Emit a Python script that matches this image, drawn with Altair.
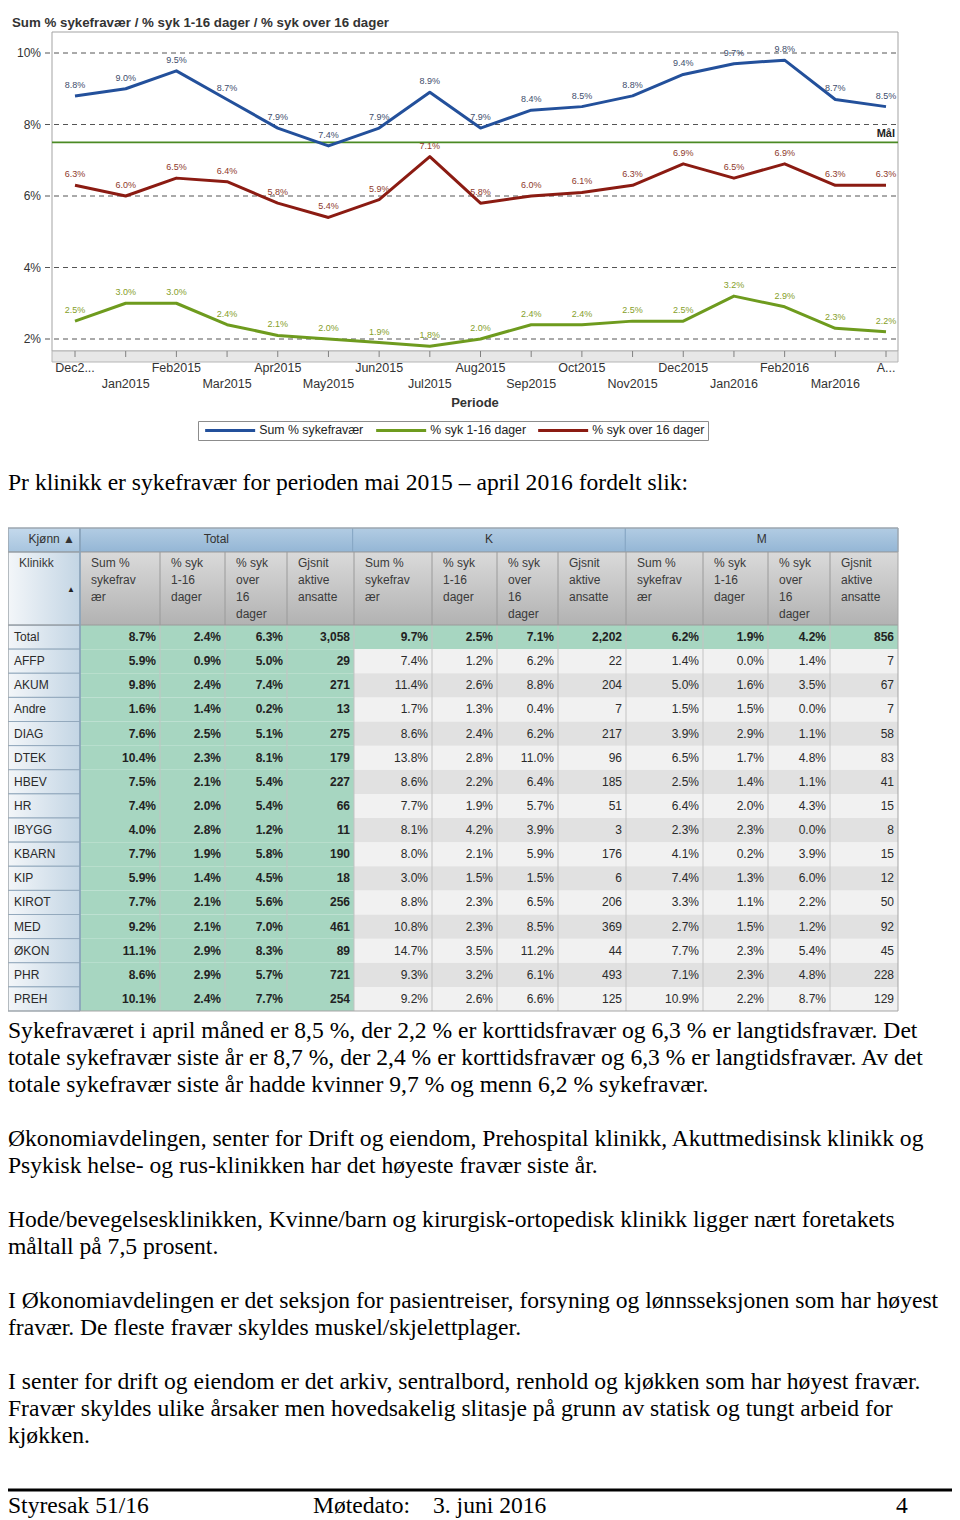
import altair as alt
import pandas as pd

# ---------------- line chart data ----------------
months = ["Dec2014", "Jan2015", "Feb2015", "Mar2015", "Apr2015", "May2015", "Jun2015",
          "Jul2015", "Aug2015", "Sep2015", "Oct2015", "Nov2015", "Dec2015", "Jan2016",
          "Feb2016", "Mar2016", "Apr2016"]
month_labels = ["Dec2...", "Jan2015", "Feb2015", "Mar2015", "Apr2015", "May2015", "Jun2015",
                "Jul2015", "Aug2015", "Sep2015", "Oct2015", "Nov2015", "Dec2015", "Jan2016",
                "Feb2016", "Mar2016", "A..."]
sum_syk = [8.8, 9.0, 9.5, 8.7, 7.9, 7.4, 7.9, 8.9, 7.9, 8.4, 8.5, 8.8, 9.4, 9.7, 9.8, 8.7, 8.5]
syk_1_16 = [2.5, 3.0, 3.0, 2.4, 2.1, 2.0, 1.9, 1.8, 2.0, 2.4, 2.4, 2.5, 2.5, 3.2, 2.9, 2.3, 2.2]
syk_over_16 = [6.3, 6.0, 6.5, 6.4, 5.8, 5.4, 5.9, 7.1, 5.8, 6.0, 6.1, 6.3, 6.9, 6.5, 6.9, 6.3, 6.3]
series_names = ["Sum % sykefravær", "% syk 1-16 dager", "% syk over 16 dager"]
y_ticks = [2, 4, 6, 8, 10]
goal_value = 7.5
chart_title = "Sum % sykefravær / % syk 1-16 dager / % syk over 16 dager"
x_title = "Periode"
goal_label = "Mål"

# ---------------- table data ----------------
klinikker = ["Total", "AFFP", "AKUM", "Andre", "DIAG", "DTEK", "HBEV", "HR", "IBYGG",
             "KBARN", "KIP", "KIROT", "MED", "ØKON", "PHR", "PREH"]
group_names = ["Total", "K", "M"]
measure_headers = [["Sum %", "sykefrav", "ær"], ["% syk", "1-16", "dager"],
                   ["% syk", "over", "16", "dager"], ["Gjsnit", "aktive", "ansatte"]]
total_sum = [8.7, 5.9, 9.8, 1.6, 7.6, 10.4, 7.5, 7.4, 4.0, 7.7, 5.9, 7.7, 9.2, 11.1, 8.6, 10.1]
total_kort = [2.4, 0.9, 2.4, 1.4, 2.5, 2.3, 2.1, 2.0, 2.8, 1.9, 1.4, 2.1, 2.1, 2.9, 2.9, 2.4]
total_lang = [6.3, 5.0, 7.4, 0.2, 5.1, 8.1, 5.4, 5.4, 1.2, 5.8, 4.5, 5.6, 7.0, 8.3, 5.7, 7.7]
total_ans = [3058, 29, 271, 13, 275, 179, 227, 66, 11, 190, 18, 256, 461, 89, 721, 254]
k_sum = [9.7, 7.4, 11.4, 1.7, 8.6, 13.8, 8.6, 7.7, 8.1, 8.0, 3.0, 8.8, 10.8, 14.7, 9.3, 9.2]
k_kort = [2.5, 1.2, 2.6, 1.3, 2.4, 2.8, 2.2, 1.9, 4.2, 2.1, 1.5, 2.3, 2.3, 3.5, 3.2, 2.6]
k_lang = [7.1, 6.2, 8.8, 0.4, 6.2, 11.0, 6.4, 5.7, 3.9, 5.9, 1.5, 6.5, 8.5, 11.2, 6.1, 6.6]
k_ans = [2202, 22, 204, 7, 217, 96, 185, 51, 3, 176, 6, 206, 369, 44, 493, 125]
m_sum = [6.2, 1.4, 5.0, 1.5, 3.9, 6.5, 2.5, 6.4, 2.3, 4.1, 7.4, 3.3, 2.7, 7.7, 7.1, 10.9]
m_kort = [1.9, 0.0, 1.6, 1.5, 2.9, 1.7, 1.4, 2.0, 2.3, 0.2, 1.3, 1.1, 1.5, 2.3, 2.3, 2.2]
m_lang = [4.2, 1.4, 3.5, 0.0, 1.1, 4.8, 1.1, 4.3, 0.0, 3.9, 6.0, 2.2, 1.2, 5.4, 4.8, 8.7]
m_ans = [856, 7, 67, 7, 58, 83, 41, 15, 8, 15, 12, 50, 92, 45, 228, 129]

# ---------------- page text ----------------
intro = "Pr klinikk er sykefravær for perioden mai 2015 – april 2016 fordelt slik:"
paragraphs = [
    ["Sykefraværet i april måned er 8,5 %, der 2,2 % er korttidsfravær og 6,3 % er langtidsfravær. Det",
     "totale sykefravær siste år er 8,7 %, der 2,4 % er korttidsfravær og 6,3 % er langtidsfravær. Av det",
     "totale sykefravær siste år hadde kvinner 9,7 % og menn 6,2 % sykefravær."],
    ["Økonomiavdelingen, senter for Drift og eiendom, Prehospital klinikk, Akuttmedisinsk klinikk og",
     "Psykisk helse- og rus-klinikken har det høyeste fravær siste år."],
    ["Hode/bevegelsesklinikken, Kvinne/barn og kirurgisk-ortopedisk klinikk ligger nært foretakets",
     "måltall på 7,5 prosent."],
    ["I Økonomiavdelingen er det seksjon for pasientreiser, forsyning og lønnsseksjonen som har høyest",
     "fravær. De fleste fravær skyldes muskel/skjelettplager."],
    ["I senter for drift og eiendom er det arkiv, sentralbord, renhold og kjøkken som har høyest fravær.",
     "Fravær skyldes ulike årsaker men hovedsakelig slitasje på grunn av statisk og tungt arbeid for",
     "kjøkken."],
]
footer_left = "Styresak 51/16"
footer_label = "Møtedato:"
footer_date = "3. juni 2016"
footer_page = "4"

# ---------------- styles / layout ----------------
SANS = "Liberation Sans"
SERIF = "Liberation Serif"
SERIF_SIZE = 23.6
LINE_COLORS = ["#23509b", "#6e9b1e", "#8b1b12"]
LABEL_COLORS = ["#3e4d6c", "#86a02a", "#8e3a2c"]
W, H = 944, 1512

X_LINE = alt.Scale(type="point", domain=months, range=[67, 878], padding=0)
Y_LINE = alt.Scale(type="linear", domain=[2, 10], range=[331, 45], nice=False, zero=False)
TX = alt.Scale(type="linear", domain=list(range(14)),
               range=[0, 72, 152, 217, 279, 346, 424, 489, 550, 618, 695, 760, 822, 890],
               nice=False, zero=False)
TY = alt.Scale(type="linear", domain=[-2, -1, 0, 16], range=[520, 544, 617, 1003],
               nice=False, zero=False)
HY = alt.Scale(type="linear", domain=[0, 3], range=[555, 606], nice=False, zero=False)
PY = alt.Scale(type="linear", domain=[0, 15], range=[1030, 1435], nice=False, zero=False)

one = pd.DataFrame({"k": [0]})


def static_text(text, x, y, **kw):
    return alt.Chart(one).mark_text(text=text, **kw).encode(x=alt.value(x), y=alt.value(y))


def static_rect(x, x2, y, y2, **kw):
    return alt.Chart(one).mark_rect(**kw).encode(
        x=alt.value(x), x2=alt.value(x2), y=alt.value(y), y2=alt.value(y2))


def grad(c0, c1, horizontal=False):
    return alt.LinearGradient(
        gradient="linear",
        stops=[alt.GradientStop(color=c0, offset=0), alt.GradientStop(color=c1, offset=1)],
        x1=0, y1=0, x2=1 if horizontal else 0, y2=0 if horizontal else 1)


layers = []

# ================= line chart =================
layers.append(static_text(chart_title, 4, 19, align="left", baseline="alphabetic", font=SANS,
                          fontSize=13.3, fontWeight="bold", color="#333333"))
layers.append(static_rect(44, 890, 24, 343, fill="white", stroke="#a3a3a3", strokeWidth=1))
layers.append(static_rect(44, 890, 343, 354, fill="#e7e7e7", stroke="#b5b5b5", strokeWidth=1))

month_df = pd.DataFrame({"month": months, "label": month_labels,
                         "row": [i % 2 for i in range(len(months))]})
layers.append(alt.Chart(month_df).mark_rule(color="#808080").encode(
    x=alt.X("month:O", scale=X_LINE, axis=None), y=alt.value(343), y2=alt.value(349)))
layers.append(alt.Chart(month_df).mark_text(font=SANS, fontSize=12.5, color="#333333",
                                             baseline="middle").encode(
    x=alt.X("month:O", scale=X_LINE, axis=None),
    y=alt.Y("row:Q", scale=alt.Scale(domain=[0, 1], range=[360, 376], nice=False, zero=False), axis=None),
    text="label:N"))
layers.append(static_text(x_title, 467, 395, align="center", baseline="middle", font=SANS,
                          fontSize=13, fontWeight="bold", color="#333333"))

ytick_df = pd.DataFrame({"v": y_ticks, "label": [f"{v}%" for v in y_ticks]})
layers.append(alt.Chart(ytick_df).mark_rule(color="#555555", strokeDash=[5, 4], strokeWidth=1).encode(
    y=alt.Y("v:Q", scale=Y_LINE, axis=None), x=alt.value(37), x2=alt.value(890)))
layers.append(alt.Chart(ytick_df).mark_text(align="right", baseline="middle", font=SANS, fontSize=12,
                                             color="#333333").encode(
    y=alt.Y("v:Q", scale=Y_LINE, axis=None), x=alt.value(33), text="label:N"))

goal_df = pd.DataFrame({"v": [goal_value]})
layers.append(alt.Chart(goal_df).mark_rule(color="#4b8a24", strokeWidth=1.6).encode(
    y=alt.Y("v:Q", scale=Y_LINE, axis=None), x=alt.value(44), x2=alt.value(890)))
layers.append(alt.Chart(goal_df).mark_text(text=goal_label, align="right", baseline="alphabetic", dy=-5,
                                            font=SANS, fontSize=11, fontWeight="bold",
                                            color="#222222").encode(
    y=alt.Y("v:Q", scale=Y_LINE, axis=None), x=alt.value(887)))

n = len(months)
long_df = pd.DataFrame({
    "month": months * 3,
    "idx": list(range(n)) * 3,
    "series": [s for s in series_names for _ in range(n)],
    "value": sum_syk + syk_1_16 + syk_over_16,
})
long_df["label"] = long_df["value"].map(lambda v: f"{v:.1f}%")

layers.append(alt.Chart(long_df).mark_line(strokeWidth=3, strokeJoin="round").encode(
    x=alt.X("month:O", scale=X_LINE, axis=None),
    y=alt.Y("value:Q", scale=Y_LINE, axis=None),
    order="idx:Q",
    color=alt.Color("series:N", scale=alt.Scale(domain=series_names, range=LINE_COLORS),
                    legend=alt.Legend(orient="none", legendX=190, legendY=413, direction="horizontal",
                                      title=None, symbolType="M0,0H50", symbolSize=4,
                                      symbolStrokeWidth=3, symbolOffset=-2, labelOffset=48,
                                      columnPadding=6, labelFont=SANS, labelFontSize=12.3,
                                      labelColor="#222222", padding=3, strokeColor="#8c8c8c",
                                      fillColor="#ffffff", labelLimit=300)),
))
layers.append(alt.Chart(long_df).mark_text(dy=-11, font=SANS, fontSize=9, baseline="middle").encode(
    x=alt.X("month:O", scale=X_LINE, axis=None),
    y=alt.Y("value:Q", scale=Y_LINE, axis=None),
    text="label:N",
    color=alt.Color("series:N", scale=alt.Scale(domain=series_names, range=LABEL_COLORS), legend=None),
))

# ================= intro line =================
layers.append(static_text(intro, 0, 482, align="left", baseline="alphabetic", font=SERIF,
                          fontSize=SERIF_SIZE, color="#000000"))

# ================= table =================
groups = [(total_sum, total_kort, total_lang, total_ans),
          (k_sum, k_kort, k_lang, k_ans),
          (m_sum, m_kort, m_lang, m_ans)]
cell_rows = []
for r, name in enumerate(klinikker):
    cell_rows.append(dict(r0=r, r1=r + 1, rm=r + 0.5, c0=0, c1=1, kind="klinikk", text=name, bold=False))
    for g in range(3):
        for m in range(4):
            c = 1 + 4 * g + m
            v = groups[g][m][r]
            text = f"{v:,}" if m == 3 else f"{v:.1f}%"
            if g == 0 or r == 0:
                kind = "green"
            elif r % 2 == 1:
                kind = "light"
            else:
                kind = "dark"
            cell_rows.append(dict(r0=r, r1=r + 1, rm=r + 0.5, c0=c, c1=c + 1, kind=kind, text=text,
                                  bold=(g == 0 or r == 0)))
cells = pd.DataFrame(cell_rows)


def cell_rect(kind, **kw):
    return alt.Chart(cells).transform_filter(alt.datum.kind == kind).mark_rect(**kw).encode(
        x=alt.X("c0:Q", scale=TX, axis=None), x2="c1:Q",
        y=alt.Y("r0:Q", scale=TY, axis=None), y2="r1:Q")


layers.append(cell_rect("green", fill="#a7d6c1"))
layers.append(cell_rect("light", fill="#f1f1f1"))
layers.append(cell_rect("dark", fill="#e1e1e1"))
layers.append(cell_rect("klinikk", fill=grad("#f3f6f9", "#c3d5e4", horizontal=True),
                        stroke="#93a9bd", strokeWidth=1))

# header row 1
hdr_k = pd.DataFrame({"c0": [0], "c1": [1], "r0": [-2], "r1": [-1], "text": ["Kjønn ▲"]})
layers.append(alt.Chart(hdr_k).mark_rect(fill=grad("#c4d9ec", "#a7c4de"), stroke="#88a6c2").encode(
    x=alt.X("c0:Q", scale=TX, axis=None), x2="c1:Q",
    y=alt.Y("r0:Q", scale=TY, axis=None), y2="r1:Q"))
layers.append(alt.Chart(hdr_k).mark_text(align="right", baseline="middle", dx=-5, font=SANS,
                                          fontSize=12, color="#333333").encode(
    x=alt.X("c1:Q", scale=TX, axis=None), y=alt.value(531), text="text:N"))

GX = alt.Scale(type="band", domain=group_names, range=[72, 890], paddingInner=0, paddingOuter=0)
grp_df = pd.DataFrame({"group": group_names})
layers.append(alt.Chart(grp_df).mark_rect(fill=grad("#b2cce3", "#94b6d5"), stroke="#86a6c4").encode(
    x=alt.X("group:N", scale=GX, axis=None), y=alt.value(520), y2=alt.value(544)))
layers.append(alt.Chart(grp_df).mark_text(baseline="middle", font=SANS, fontSize=12,
                                           color="#333333").encode(
    x=alt.X("group:N", scale=GX, axis=None, bandPosition=0.5), y=alt.value(531), text="group:N"))

# header row 2
hdr2_df = pd.DataFrame({"c0": list(range(1, 13)), "c1": list(range(2, 14)), "r0": -1, "r1": 0})
layers.append(alt.Chart(hdr2_df).mark_rect(fill=grad("#dadada", "#b2b2b2")).encode(
    x=alt.X("c0:Q", scale=TX, axis=None), x2="c1:Q",
    y=alt.Y("r0:Q", scale=TY, axis=None), y2="r1:Q"))
layers.append(alt.Chart(pd.DataFrame({"c0": [0], "c1": [1], "r0": [-1], "r1": [0]})).mark_rect(
    fill=grad("#f3f6f9", "#c3d5e4", horizontal=True), stroke="#93a9bd").encode(
    x=alt.X("c0:Q", scale=TX, axis=None), x2="c1:Q",
    y=alt.Y("r0:Q", scale=TY, axis=None), y2="r1:Q"))

hl_rows = [dict(c0=0, line=0, text="Klinikk")]
for c in range(1, 13):
    for i, t in enumerate(measure_headers[(c - 1) % 4]):
        hl_rows.append(dict(c0=c, line=i, text=t))
hl_df = pd.DataFrame(hl_rows)
layers.append(alt.Chart(hl_df).mark_text(align="left", baseline="middle", dx=11, font=SANS, fontSize=12,
                                          color="#3a3a3a").encode(
    x=alt.X("c0:Q", scale=TX, axis=None),
    y=alt.Y("line:Q", scale=HY, axis=None), text="text:N"))
layers.append(alt.Chart(pd.DataFrame({"c1": [1]})).mark_text(
    text="▲", align="right", baseline="middle", dx=-5, font=SANS, fontSize=8, color="#222222").encode(
    x=alt.X("c1:Q", scale=TX, axis=None), y=alt.value(582)))

# separators
sep_df = pd.DataFrame({"c": list(range(2, 13))})
layers.append(alt.Chart(sep_df).mark_rule(color="#c3c3c3", strokeWidth=1).encode(
    x=alt.X("c:Q", scale=TX, axis=None), y=alt.value(617), y2=alt.value(1003)))
layers.append(alt.Chart(sep_df).mark_rule(color="#9a9a9a", strokeWidth=1).encode(
    x=alt.X("c:Q", scale=TX, axis=None), y=alt.value(544), y2=alt.value(617)))
hsep = pd.DataFrame({"r": [-1, 0]})
layers.append(alt.Chart(hsep).mark_rule(color="#9a9a9a", strokeWidth=1).encode(
    y=alt.Y("r:Q", scale=TY, axis=None), x=alt.value(0), x2=alt.value(890)))
layers.append(alt.Chart(pd.DataFrame({"c": [1]})).mark_rule(color="#8aa3ba", strokeWidth=1.5).encode(
    x=alt.X("c:Q", scale=TX, axis=None), y=alt.value(520), y2=alt.value(1003)))
layers.append(alt.Chart(pd.DataFrame({"c0": [0], "c1": [13], "r0": [-2], "r1": [16]})).mark_rect(
    filled=False, stroke="#a5a5a5", strokeWidth=1).encode(
    x=alt.X("c0:Q", scale=TX, axis=None), x2="c1:Q",
    y=alt.Y("r0:Q", scale=TY, axis=None), y2="r1:Q"))

# cell texts
layers.append(alt.Chart(cells).transform_filter(alt.datum.kind == "klinikk").mark_text(
    align="left", baseline="middle", dx=6, font=SANS, fontSize=12, color="#2a2a2a").encode(
    x=alt.X("c0:Q", scale=TX, axis=None), y=alt.Y("rm:Q", scale=TY, axis=None), text="text:N"))
layers.append(alt.Chart(cells).transform_filter(
    (alt.datum.kind != "klinikk") & alt.datum.bold).mark_text(
    align="right", baseline="middle", dx=-4, font=SANS, fontSize=12, fontWeight="bold",
    color="#222222").encode(
    x=alt.X("c1:Q", scale=TX, axis=None), y=alt.Y("rm:Q", scale=TY, axis=None), text="text:N"))
layers.append(alt.Chart(cells).transform_filter(
    (alt.datum.kind != "klinikk") & (~alt.datum.bold)).mark_text(
    align="right", baseline="middle", dx=-4, font=SANS, fontSize=12, color="#2a2a2a").encode(
    x=alt.X("c1:Q", scale=TX, axis=None), y=alt.Y("rm:Q", scale=TY, axis=None), text="text:N"))

# ================= paragraphs =================
para_rows = []
slot = 0
for p in paragraphs:
    for line in p:
        para_rows.append({"slot": slot, "text": line})
        slot += 1
    slot += 1
para_df = pd.DataFrame(para_rows)
layers.append(alt.Chart(para_df).mark_text(align="left", baseline="alphabetic", font=SERIF,
                                            fontSize=SERIF_SIZE, color="#000000").encode(
    x=alt.value(0), y=alt.Y("slot:Q", scale=PY, axis=None), text="text:N"))

# ================= footer =================
layers.append(alt.Chart(one).mark_rule(color="#000000", strokeWidth=3).encode(
    x=alt.value(0), x2=alt.value(944), y=alt.value(1482)))
for txt, xpos in [(footer_left, 0), (footer_label, 305), (footer_date, 425), (footer_page, 888)]:
    layers.append(static_text(txt, xpos, 1505, align="left", baseline="alphabetic", font=SERIF,
                              fontSize=SERIF_SIZE, color="#000000"))

chart = alt.layer(*layers).resolve_scale(
    x="independent", y="independent", color="independent"
).properties(
    width=W, height=H, padding=0, autosize=alt.AutoSizeParams(type="none"), background="white"
).configure_view(strokeWidth=0)

chart.save("out.html", embed_options={"renderer": "svg", "actions": False})
